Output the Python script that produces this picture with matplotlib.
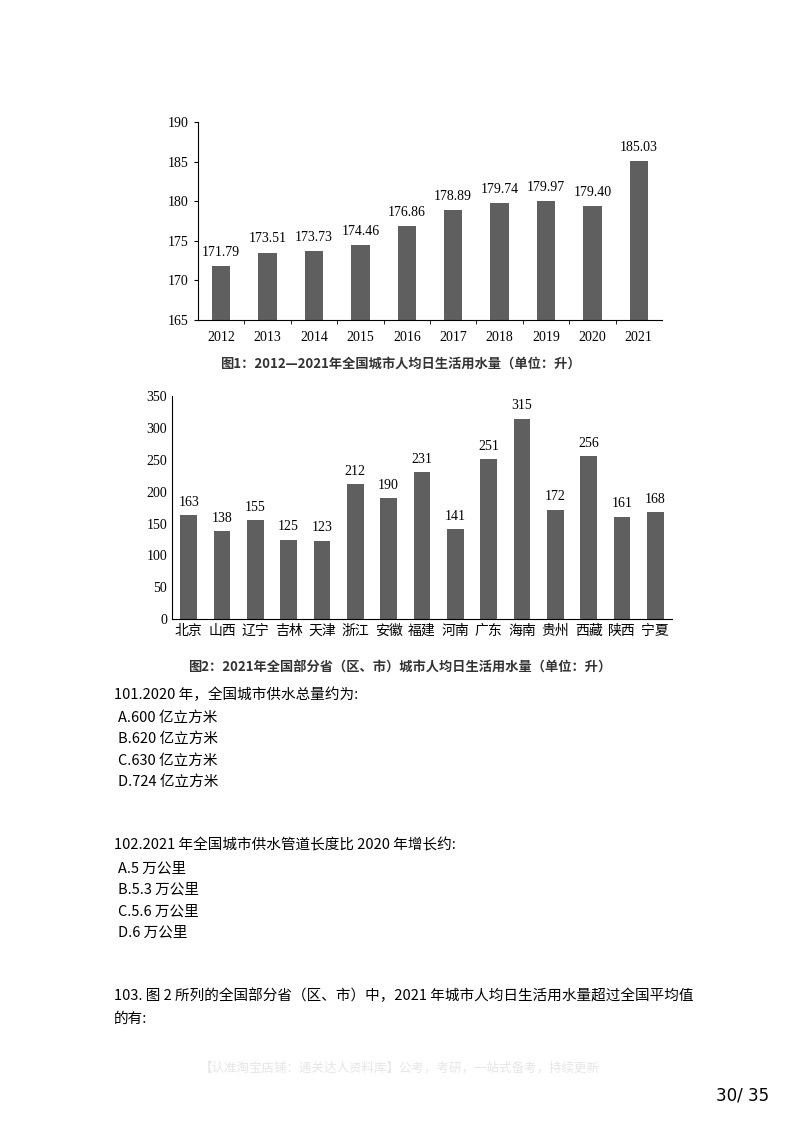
import matplotlib.pyplot as plt

plt.rcParams['font.family'] = ['Liberation Serif', 'Noto Sans CJK SC']

years = ['2012', '2013', '2014', '2015', '2016', '2017', '2018', '2019', '2020', '2021']
usage = [171.79, 173.51, 173.73, 174.46, 176.86, 178.89, 179.74, 179.97, 179.40, 185.03]

provinces = ['北京', '山西', '辽宁', '吉林', '天津', '浙江', '安徽', '福建', '河南', '广东', '海南', '贵州', '西藏', '陕西', '宁夏']
prov_usage = [163, 138, 155, 125, 123, 212, 190, 231, 141, 251, 315, 172, 256, 161, 168]

bar_c = '#5f5f5f'
cjk = ['Noto Sans CJK SC', 'DejaVu Sans']
base = 165

fig = plt.figure(figsize=(8, 11.32), dpi=100)

# 图1
ax1 = fig.add_axes([0.2475, 0.7173, 0.58, 0.175])
x1 = range(len(years))
ax1.bar(x1, [v - base for v in usage], width=0.4, color=bar_c, bottom=base)
ax1.set_ylim(base, 190)
ax1.set_xlim(-0.5, len(years) - 0.5)
ax1.set_xticks(list(x1))
ax1.set_xticklabels(years)
ax1.set_yticks(range(165, 191, 5))
for i, v in enumerate(usage):
    ax1.text(i, v + 0.9, f'{v:.2f}', ha='center', va='bottom', fontsize=10)
for s in ['top', 'right']:
    ax1.spines[s].set_visible(False)
ax1.tick_params(labelsize=10, length=3)
ax1.set_xticks([i + 0.5 for i in range(len(years) - 1)], minor=True)
ax1.tick_params(axis='x', which='major', length=0, pad=8)
ax1.tick_params(axis='x', which='minor', length=3)
fig.text(0.5, 0.675, '图1：2012—2021年全国城市人均日生活用水量（单位：升）',
         ha='center', fontsize=9.5, fontweight='bold', family=cjk, color='#333333')

# 图2
ax2 = fig.add_axes([0.215, 0.453, 0.625, 0.197])
x2 = range(len(provinces))
ax2.bar(x2, prov_usage, width=0.5, color=bar_c)
ax2.set_ylim(0, 350)
ax2.set_xlim(-0.5, len(provinces) - 0.5)
ax2.set_yticks(range(0, 351, 50))
ax2.set_xticks(list(x2))
ax2.set_xticklabels(provinces, family=cjk)
for i, v in enumerate(prov_usage):
    ax2.text(i, v + 10, str(v), ha='center', va='bottom', fontsize=10)
for s in ['top', 'right']:
    ax2.spines[s].set_visible(False)
ax2.tick_params(labelsize=10, length=0)
fig.text(0.5, 0.407, '图2：2021年全国部分省（区、市）城市人均日生活用水量（单位：升）',
         ha='center', fontsize=9.5, fontweight='bold', family=cjk, color='#333333')

# 题目文本
lines = [
    (0.142, 0.386, '101.2020 年，全国城市供水总量约为:'),
    (0.148, 0.366, 'A.600 亿立方米'),
    (0.148, 0.347, 'B.620 亿立方米'),
    (0.148, 0.328, 'C.630 亿立方米'),
    (0.148, 0.309, 'D.724 亿立方米'),
    (0.142, 0.253, '102.2021 年全国城市供水管道长度比 2020 年增长约:'),
    (0.148, 0.233, 'A.5 万公里'),
    (0.148, 0.214, 'B.5.3 万公里'),
    (0.148, 0.195, 'C.5.6 万公里'),
    (0.148, 0.176, 'D.6 万公里'),
    (0.142, 0.120, '103. 图 2 所列的全国部分省（区、市）中，2021 年城市人均日生活用水量超过全国平均值'),
    (0.142, 0.100, '的有:'),
]
for x, y, t in lines:
    fig.text(x, y, t, fontsize=10.5, family=cjk, va='center')

fig.text(0.5, 0.056, '【认准淘宝店铺：通关达人资料库】公考，考研，一站式备考，持续更新',
         ha='center', fontsize=9, family=cjk, color='#e6e6e6', va='center')
fig.text(0.962, 0.032, '30/ 35', ha='right', fontsize=12, family=['Liberation Sans Narrow', 'DejaVu Sans'], va='center')

fig.savefig('out.png', dpi=100)
